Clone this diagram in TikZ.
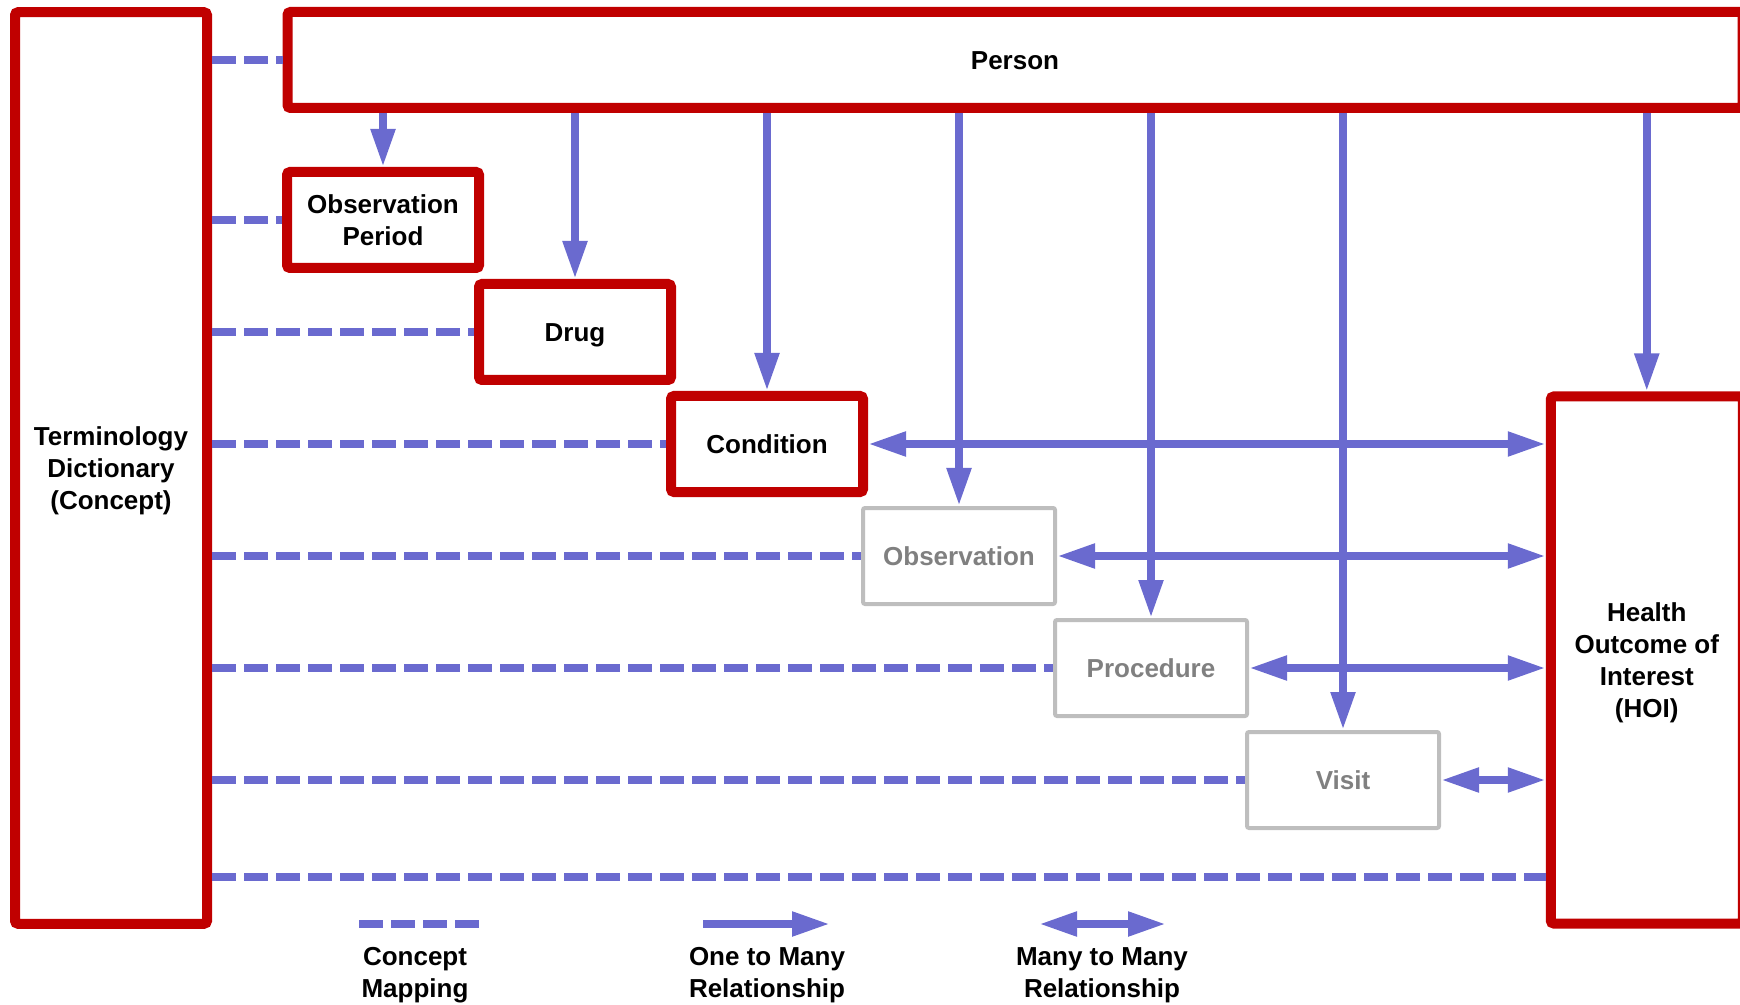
\documentclass[tikz,border=0pt]{standalone}
\usepackage{fontspec}
\setmainfont{Liberation Sans}
\usetikzlibrary{arrows.meta}
\definecolor{boxred}{RGB}{192,0,0}
\definecolor{linkblue}{RGB}{106,106,207}
\definecolor{greyline}{RGB}{190,190,190}
\definecolor{greytext}{RGB}{128,128,128}
\tikzset{
  lbl/.style={font=\fontsize{13}{16}\selectfont\bfseries, align=center, inner sep=0pt},
  boxtext/.style={lbl, text depth=2.6pt},
  lines1/.style={text height=12.2pt},
  lines2/.style={text height=28.2pt},
  lines3/.style={text height=44.2pt},
  lines4/.style={text height=60.2pt},
  redbox/.style={boxtext, draw=boxred, line width=5pt, fill=white, rounded corners=1.5pt,
    minimum width=96pt, minimum height=48pt},
  greybox/.style={boxtext, draw=greyline, line width=2pt, fill=white, rounded corners=1pt,
    text=greytext, minimum width=96pt, minimum height=48pt},
  cmap/.style={draw=linkblue, line width=4pt, dash pattern=on 12pt off 4pt},
  tipb/.tip={Triangle[length=19pt,width=11.5pt]},
  onemany/.style={draw=linkblue, line width=4pt, -tipb},
  manymany/.style={draw=linkblue, line width=4pt, tipb-tipb},
}
\begin{document}
\begin{tikzpicture}[x=0.5pt,y=-0.5pt]
\useasboundingbox (0,0) rectangle (1740,1005);

% boxes
\node[redbox, lines3, minimum height=455.75pt] (term) at (111,468) {Terminology\\Dictionary\\(Concept)};
\node[redbox, lines1, minimum width=727.5pt] (person) at (1015,60) {Person};
\node[redbox, lines2] (obsp) at (383,220) {Observation\\Period};
\node[redbox, lines1] (drug) at (575,332) {Drug};
\node[redbox, lines1] (cond) at (767,444) {Condition};
\node[greybox, lines1] (obs) at (959,556) {Observation};
\node[greybox, lines1] (proc) at (1151,668) {Procedure};
\node[greybox, lines1] (visit) at (1343,780) {Visit};
\node[redbox, lines4, minimum height=263.5pt] (hoi) at (1646.75,660) {Health\\Outcome of\\Interest\\(HOI)};
\coordinate (hoirow) at (1400,877);

% concept mappings
\draw[cmap] (term.east |- person.west) -- (person.west);
\draw[cmap] (term.east |- obsp.west) -- (obsp.west);
\draw[cmap] (term.east |- drug.west) -- (drug.west);
\draw[cmap] (term.east |- cond.west) -- (cond.west);
\draw[cmap] (term.east |- obs.west) -- (obs.west);
\draw[cmap] (term.east |- proc.west) -- (proc.west);
\draw[cmap] (term.east |- visit.west) -- (visit.west);
\draw[cmap] (term.east |- hoirow) -- (hoi.west |- hoirow);

% many to many
\draw[manymany] (cond.east) -- (hoi.west |- cond.east);
\draw[manymany] (obs.east) -- (hoi.west |- obs.east);
\draw[manymany] (proc.east) -- (hoi.west |- proc.east);
\draw[manymany] (visit.east) -- (hoi.west |- visit.east);

% one to many
\draw[onemany] (person.south -| obsp.north) -- (obsp.north);
\draw[onemany] (person.south -| drug.north) -- (drug.north);
\draw[onemany] (person.south -| cond.north) -- (cond.north);
\draw[onemany] (person.south -| obs.north) -- (obs.north);
\draw[onemany] (person.south -| proc.north) -- (proc.north);
\draw[onemany] (person.south -| visit.north) -- (visit.north);
\draw[onemany] (person.south -| hoi.north) -- (hoi.north);

% legend
\coordinate (lga) at (359,924);
\coordinate (lgb) at (479,924);
\coordinate (lgc) at (703,924);
\coordinate (lgd) at (830,924);
\coordinate (lge) at (1039,924);
\coordinate (lgf) at (1166,924);
\draw[cmap] (lga) -- (lgb);
\draw[onemany] (lgc) -- (lgd);
\draw[manymany] (lge) -- (lgf);
\node[lbl] (lgt1) at (415,975) {Concept\\Mapping};
\node[lbl] (lgt2) at (767,975) {One to Many\\Relationship};
\node[lbl] (lgt3) at (1102,975) {Many to Many\\Relationship};
\end{tikzpicture}
\end{document}
